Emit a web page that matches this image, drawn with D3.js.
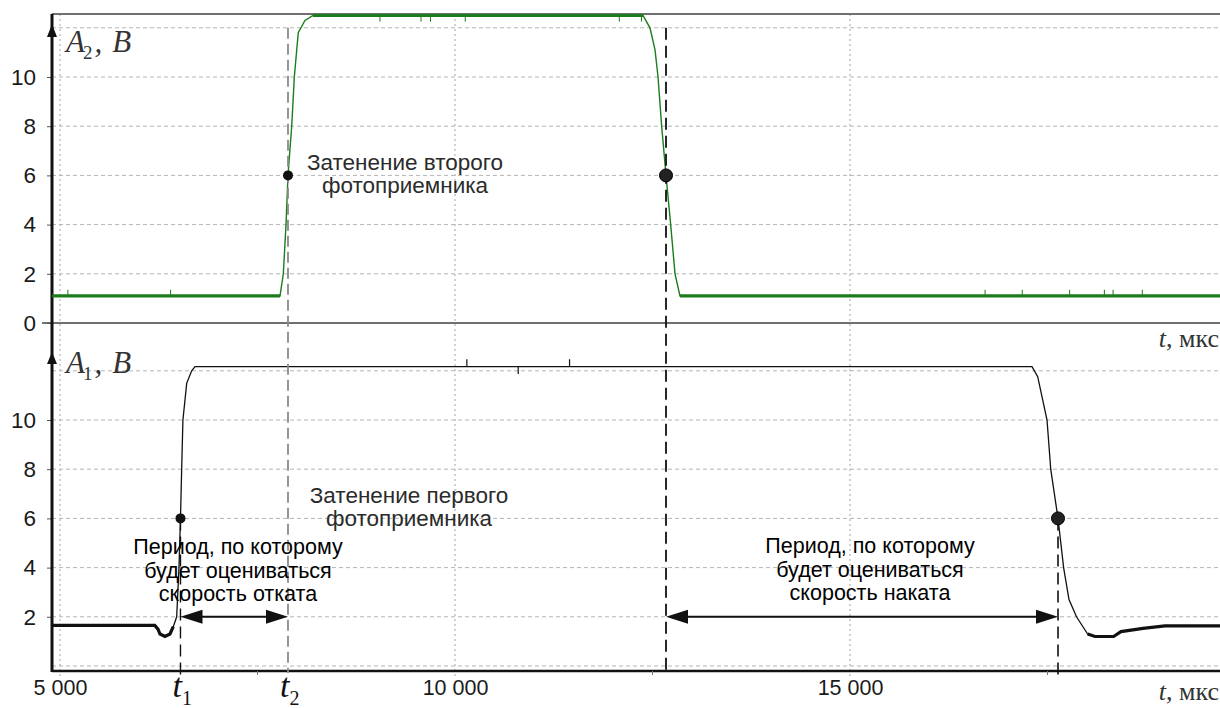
<!DOCTYPE html>
<html><head><meta charset="utf-8">
<script src="https://cdn.jsdelivr.net/npm/d3@7"></script>
<style>
html,body{margin:0;padding:0;background:#fff;}
svg{display:block;}
</style></head>
<body>
<svg id="c" width="1220" height="708"></svg>
<script>
// ---- data ----
const a2Time = [4900,7785,7827,7861,7886,7933,7966,8016,8101,8203,12380,12468,12532,12570,12616,12671,12730,12785,12848,19700];
const a2Volt = [1.1,1.1,2.0,4,6,8,10,11.8,12.3,12.5,12.5,12.0,11.1,10,8,6,4,2,1.1,1.1];
const a1Time = [4900,6200,6240,6266,6329,6392,6434,6477,6506,6525,6540,6556,6604,6667,6709,17304,17376,17494,17541,17633,17704,17772,17867,18008,18101,18337,18430,18709,18987,19700];
const a1Volt = [1.65,1.65,1.5,1.3,1.2,1.3,1.6,2.0,4,6,8,10,11.5,12.0,12.17,12.17,11.76,10,8,6,4,2.7,2.0,1.3,1.2,1.2,1.4,1.53,1.63,1.63];
const a2Spikes = [[5100,1.1,0.25],[6400,1.1,0.25],[16710,1.1,0.25],[17180,1.1,0.25],[17780,1.1,0.25],[18220,1.1,0.25],[18330,1.1,0.25],[18700,1.1,0.25],[9050,12.5,-0.25],[9570,12.5,-0.25],[9690,12.5,-0.25],[10130,12.5,-0.25],[12080,12.5,-0.25],[12360,12.5,-0.25]];
const a1Spikes = [[10150,12.17,0.3],[10800,12.17,-0.3],[11450,12.17,0.3]];
const markTimes = {t1:6525, t2:7886, t3:12671, t4:17633};
const levelV = 6;
const arrowV = 2;
const yTicksTop = [0,2,4,6,8,10];
const yTicksBot = [2,4,6,8,10];
const yGrid = [2,4,6,8,10,12];
const xTicks = [5000,10000,15000];
const xTickLabels = ["5 000","10 000","15 000"];
const xMinor = [7500,12500,17500];
const noteTop = ["Затенение второго","фотоприемника"];
const noteBot = ["Затенение первого","фотоприемника"];
const noteLeft = ["Период, по которому","будет оцениваться","скорость отката"];
const noteRight = ["Период, по которому","будет оцениваться","скорость наката"];

// ---- layout ----
const svg = d3.select("#c");
const W = 1220;
const axisX = 52;
const x = d3.scaleLinear().domain([5000,15000]).range([60,850]);
const yT = d3.scaleLinear().domain([0,12]).range([323,27.8]);
const yB = d3.scaleLinear().domain([0,12]).range([666,370.8]);
const a2 = a2Time.map((t,i)=>({t, v:a2Volt[i]}));
const a1 = a1Time.map((t,i)=>({t, v:a1Volt[i]}));

// grid
const g = svg.append("g");
yGrid.forEach(v=>{
  g.append("line").attr("x1",axisX).attr("x2",W).attr("y1",yT(v)).attr("y2",yT(v))
   .attr("stroke","#b4b4b4").attr("stroke-width",1).attr("stroke-dasharray","4,3");
});
[0].concat(yGrid).forEach(v=>{
  g.append("line").attr("x1",axisX).attr("x2",W).attr("y1",yB(v)).attr("y2",yB(v))
   .attr("stroke","#b4b4b4").attr("stroke-width",1).attr("stroke-dasharray","4,3");
});
xTicks.forEach(t=>{
  g.append("line").attr("x1",x(t)).attr("x2",x(t)).attr("y1",14).attr("y2",677)
   .attr("stroke","#b4b4b4").attr("stroke-width",1.2).attr("stroke-dasharray","2,3");
});

// frames
svg.append("line").attr("x1",axisX).attr("x2",W).attr("y1",14).attr("y2",14).attr("stroke","#707070").attr("stroke-width",2.2);
svg.append("line").attr("x1",42).attr("x2",W).attr("y1",yT(0)).attr("y2",yT(0)).attr("stroke","#707070").attr("stroke-width",2.2);
svg.append("line").attr("x1",axisX).attr("x2",W).attr("y1",671).attr("y2",671).attr("stroke","#111").attr("stroke-width",2.6);

// minor ticks bottom
xMinor.forEach(t=>{
  svg.append("line").attr("x1",x(t)).attr("x2",x(t)).attr("y1",671).attr("y2",675).attr("stroke","#777").attr("stroke-width",1);
});

// y axes tick labels
const axL1 = d3.axisLeft(yT).tickValues(yTicksTop).tickSize(5).tickPadding(11).tickFormat(d3.format("d"));
const gA1 = svg.append("g").attr("transform",`translate(${axisX},0)`).call(axL1);
const axL2 = d3.axisLeft(yB).tickValues(yTicksBot).tickSize(5).tickPadding(11).tickFormat(d3.format("d"));
const gA2 = svg.append("g").attr("transform",`translate(${axisX},0)`).call(axL2);
[gA1,gA2].forEach(ga=>{
  ga.select(".domain").remove();
  ga.selectAll("line").attr("stroke","#555");
  ga.selectAll("text").attr("font-family","'Liberation Sans',Arial,sans-serif").attr("font-size",22.5).attr("fill","#1a1a1a");
});
const axBot = d3.axisBottom(x).tickValues(xTicks).tickSize(0).tickPadding(9).tickFormat((d,i)=>xTickLabels[i]);
const gB = svg.append("g").attr("transform","translate(0,671)").call(axBot);
gB.select(".domain").remove();
gB.selectAll("text").attr("font-family","'Liberation Sans',Arial,sans-serif").attr("font-size",21.5).attr("fill","#1a1a1a");

// left axis + arrows
svg.append("line").attr("x1",axisX).attr("x2",axisX).attr("y1",14).attr("y2",672).attr("stroke","#111").attr("stroke-width",3);
[[24,37],[352,364]].forEach(([tip,base])=>{
  svg.append("path").attr("d",`M${axisX},${tip} L${axisX-5},${base} L${axisX+5},${base} Z`).attr("fill","#111");
});

// signals
const lineT = d3.line().x(d=>x(d.t)).y(d=>yT(d.v));
const lineB = d3.line().x(d=>x(d.t)).y(d=>yB(d.v));
const green = "#1b7d1b";
svg.append("path").datum(a2).attr("d",lineT).attr("fill","none").attr("stroke",green).attr("stroke-width",1.4);
svg.append("path").datum(a2).attr("d",lineT.defined(d=>d.v<=1.15||d.v>=12.45)).attr("fill","none").attr("stroke",green).attr("stroke-width",3.2);
a2Spikes.forEach(([t,v,dv])=>{
  svg.append("line").attr("x1",x(t)).attr("x2",x(t)).attr("y1",yT(v)).attr("y2",yT(v+dv)).attr("stroke",green).attr("stroke-width",1);
});
svg.append("path").datum(a1).attr("d",lineB).attr("fill","none").attr("stroke","#111").attr("stroke-width",1.3);
svg.append("path").datum(a1).attr("d",lineB.defined(d=>d.v<1.7)).attr("fill","none").attr("stroke","#111").attr("stroke-width",3.2);
a1Spikes.forEach(([t,v,dv])=>{
  svg.append("line").attr("x1",x(t)).attr("x2",x(t)).attr("y1",yB(v)).attr("y2",yB(v+dv)).attr("stroke","#111").attr("stroke-width",1.2);
});

// dashed markers
svg.append("line").attr("x1",x(markTimes.t2)).attr("x2",x(markTimes.t2)).attr("y1",yT(12)).attr("y2",673)
  .attr("stroke","#8a8a8a").attr("stroke-width",1.8).attr("stroke-dasharray","11,5");
svg.append("line").attr("x1",x(markTimes.t3)).attr("x2",x(markTimes.t3)).attr("y1",yT(12)).attr("y2",673)
  .attr("stroke","#111").attr("stroke-width",1.8).attr("stroke-dasharray","12,6");
svg.append("line").attr("x1",x(markTimes.t1)).attr("x2",x(markTimes.t1)).attr("y1",yB(levelV)).attr("y2",675)
  .attr("stroke","#111").attr("stroke-width",1.4).attr("stroke-dasharray","12,6");
svg.append("line").attr("x1",x(markTimes.t4)).attr("x2",x(markTimes.t4)).attr("y1",yB(levelV)).attr("y2",675)
  .attr("stroke","#111").attr("stroke-width",1.6).attr("stroke-dasharray","12,6");

// dots
svg.append("circle").attr("cx",x(markTimes.t2)).attr("cy",yT(levelV)).attr("r",5).attr("fill","#111");
svg.append("circle").attr("cx",x(markTimes.t3)).attr("cy",yT(levelV)).attr("r",6.5).attr("fill","#222").attr("stroke","#000").attr("stroke-width",1);
svg.append("circle").attr("cx",x(markTimes.t1)).attr("cy",yB(levelV)).attr("r",5).attr("fill","#111");
svg.append("circle").attr("cx",x(markTimes.t4)).attr("cy",yB(levelV)).attr("r",6.5).attr("fill","#222").attr("stroke","#000").attr("stroke-width",1);

// double arrows
function dblArrow(t0,t1,v){
  const x0=x(t0), x1=x(t1), y=yB(v), L=22, H=7;
  svg.append("line").attr("x1",x0+L-2).attr("x2",x1-L+2).attr("y1",y).attr("y2",y).attr("stroke","#111").attr("stroke-width",2);
  svg.append("path").attr("d",`M${x0},${y} L${x0+L},${y-H} L${x0+L},${y+H} Z`).attr("fill","#111");
  svg.append("path").attr("d",`M${x1},${y} L${x1-L},${y-H} L${x1-L},${y+H} Z`).attr("fill","#111");
}
dblArrow(markTimes.t1, markTimes.t2, arrowV);
dblArrow(markTimes.t3, markTimes.t4, arrowV);

// notes
function note(lines, cx, y0, lh, color, fs){
  const t = svg.append("text").attr("text-anchor","middle").attr("font-family","'Liberation Sans',Arial,sans-serif")
    .attr("font-size",fs).attr("fill",color);
  lines.forEach((s,i)=>t.append("tspan").attr("x",cx).attr("y",y0+i*lh).text(s));
}
note(noteTop, 405, 170, 23, "#2b2b2b", 22.5);
note(noteBot, 409, 503, 23, "#2b2b2b", 22.5);
note(noteLeft, 238, 554, 23.5, "#000", 21.5);
note(noteRight, 870, 553, 23.5, "#000", 21.5);

// axis titles
function yTitle(sub, xx, yy){
  const t = svg.append("text").attr("x",xx).attr("y",yy).attr("font-family","'Liberation Serif','Times New Roman',serif")
    .attr("font-style","italic").attr("font-size",31).attr("fill","#333");
  t.append("tspan").text("A");
  t.append("tspan").attr("font-size",19).attr("font-style","normal").attr("dy",7).attr("dx",-2).text(sub);
  t.append("tspan").attr("dy",-7).attr("dx",2).text(",");
  t.append("tspan").attr("dx",10).text("B");
}
yTitle("2", 66, 52);
yTitle("1", 66, 373);
function xTitle(yy){
  const t = svg.append("text").attr("x",W-1).attr("y",yy).attr("text-anchor","end")
    .attr("font-family","'Liberation Serif','Times New Roman',serif").attr("font-size",26).attr("fill","#333");
  t.append("tspan").attr("font-style","italic").text("t");
  t.append("tspan").text(", мкс");
}
xTitle(347);
xTitle(700);
function tLabel(sub, t){
  const tx = svg.append("text").attr("x",x(t)-8).attr("y",697)
    .attr("font-family","'Liberation Serif','Times New Roman',serif").attr("font-style","italic").attr("font-size",34).attr("fill","#111");
  tx.append("tspan").text("t");
  tx.append("tspan").attr("font-size",20).attr("font-style","normal").attr("dy",8).text(sub);
}
tLabel("1", markTimes.t1);
tLabel("2", markTimes.t2);
</script>
</body></html>
